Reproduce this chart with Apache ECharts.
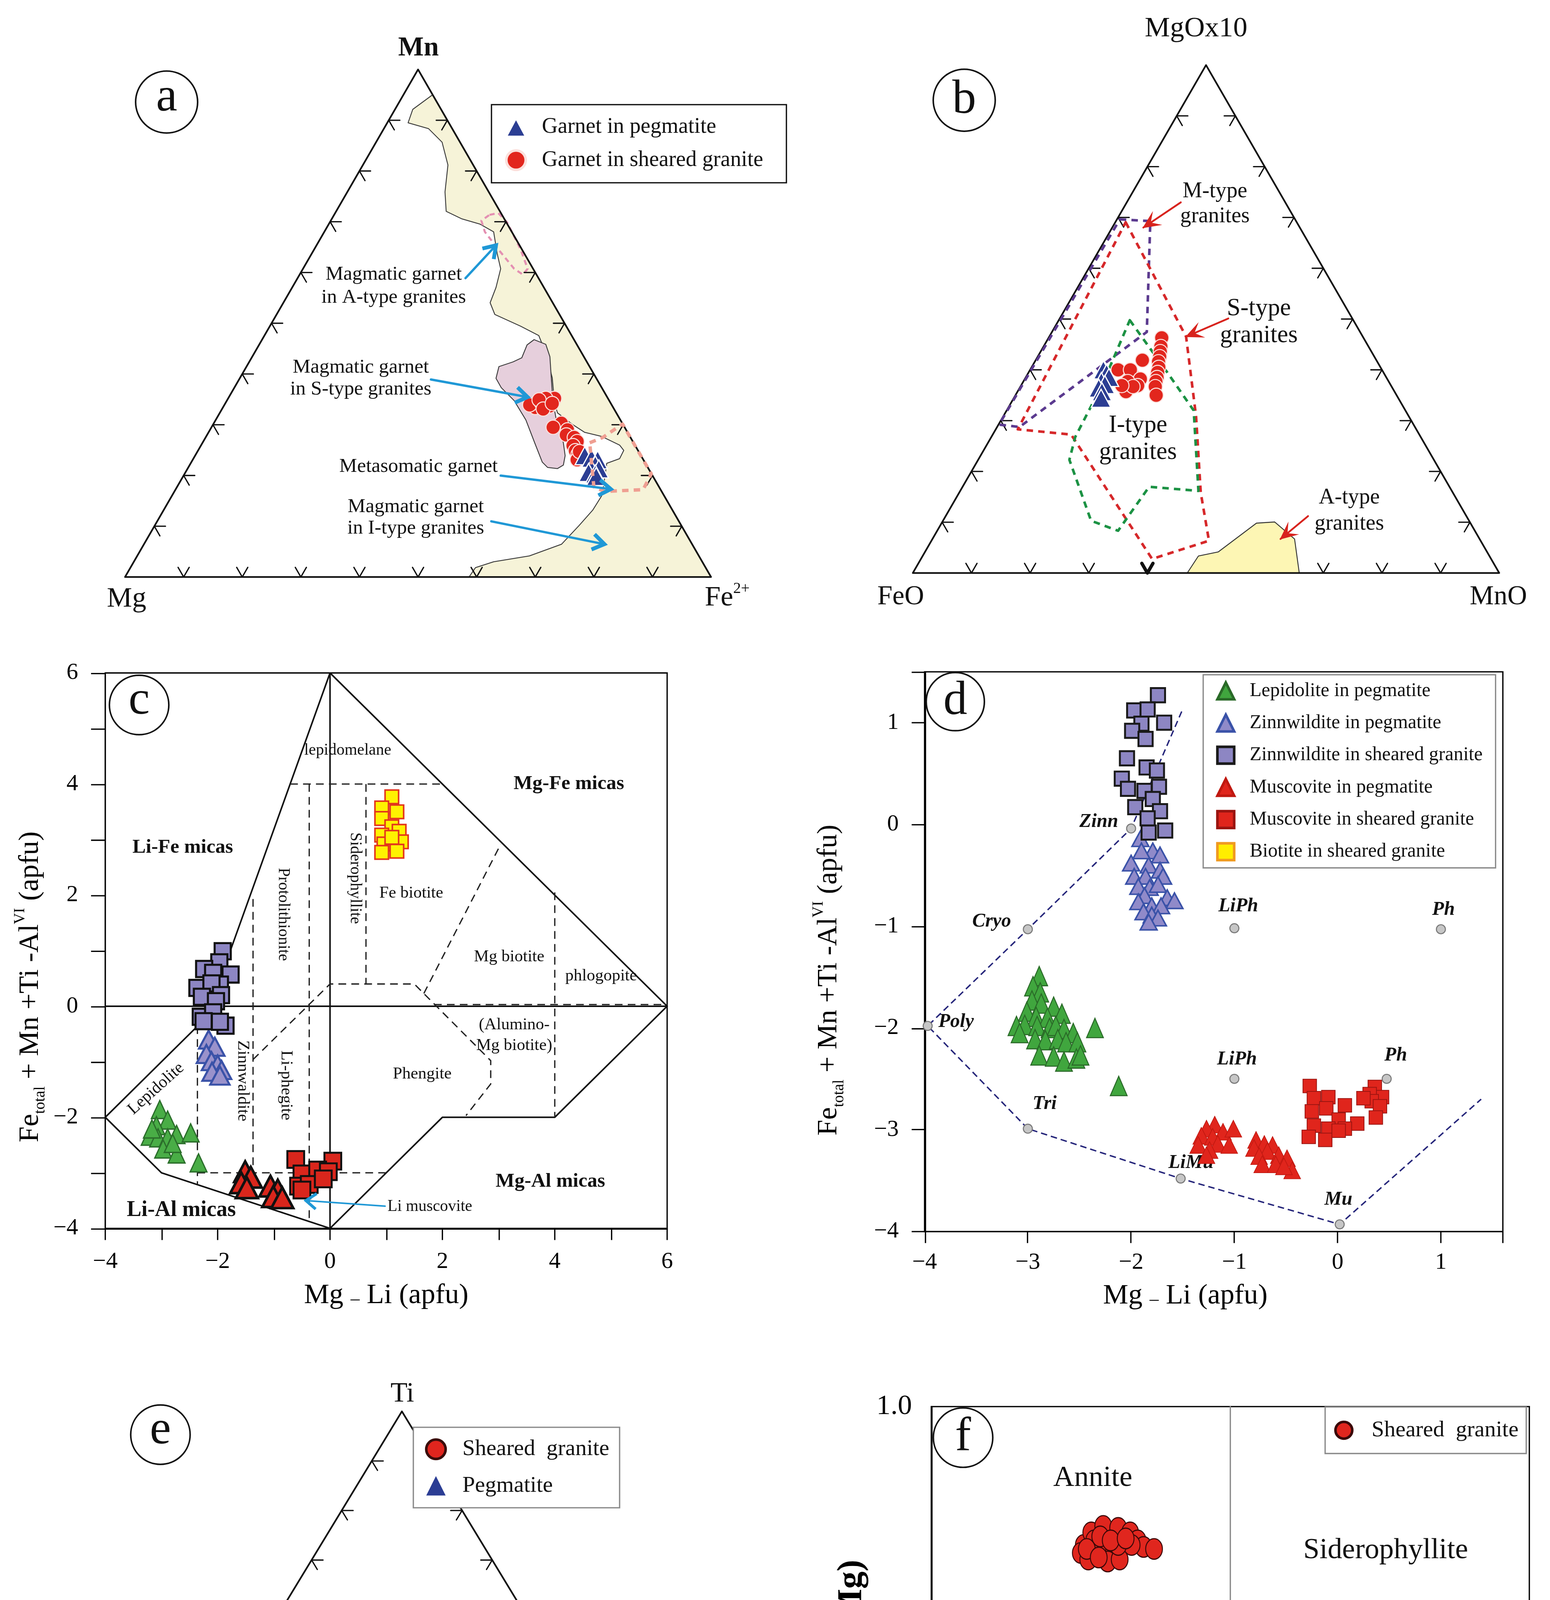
<!DOCTYPE html>
<html>
<head>
<meta charset="utf-8">
<title>Mineral chemistry classification diagrams</title>
<script src="https://cdn.jsdelivr.net/npm/echarts@6.0.0/dist/echarts.min.js"></script>
<style>
  html, body { margin:0; padding:0; background:#fff; width:3968px; height:5177px; overflow:hidden; }
  #chart { width:1200px; height:1566px; transform:scale(3.3066667); transform-origin:0 0; }
</style>
</head>
<body>
<div id="chart"></div>
<script>
const SERIF = '"Liberation Serif","Times New Roman",serif';
const R3 = Math.sqrt(3) / 2;

// ================= DATA =================
const ternTicks = [10, 20, 30, 40, 50, 60, 70, 80, 90];

// (a) Garnet, ternary Mn – Mg – Fe2+ : [Mn %, Fe2+ %]
const aGarnetGranite = [[35.2,55.7],[33.4,53.3],[33.9,52.1],[34.2,54.0],[35.2,54.2],[33.7,55.6],[34.9,53.2],[33.1,54.8],[34.2,55.8],[30.3,59.3],[29.5,58.3],[29.0,61.0],[28.0,61.3],[27.5,62.9],[26.7,63.8],[25.9,63.5],[24.9,64.4],[24.2,65.2],[23.1,65.6],[24.7,65.2]];
const aGarnetPegmatite = [[23.9,66.5],[23.4,67.9],[23.1,69.1],[22.1,69.2],[21.3,68.9],[21.3,70.2],[20.6,68.8],[20.3,70.1],[19.8,70.5]];
// (a) field outlines, in triangle plane units (side = 100)
const aFieldMagmatic = [[52.5,82.3],[49.1,79.8],[48.3,77.5],[51.8,76.5],[54.1,74.2],[55.1,70.3],[54.6,65.7],[54.8,62.4],[57.5,61.1],[60.6,60.2],[62.9,58.9],[63.5,55.2],[64.1,52.6],[63.3,49.4],[62.3,46.8],[63.1,44.8],[67.5,42.8],[70.6,41.2],[71.8,38.2],[72.9,34.0],[73.3,29.6],[73.8,28.0],[76.4,26.0],[78.4,24.7],[81.3,24.0],[84.4,22.5],[85.1,21.6],[84.4,20.2],[82.2,19.4],[81.5,14.5],[81.3,13.8],[79.8,11.4],[77.5,8.8],[74.5,5.6],[69.0,3.6],[62.9,2.6],[59.8,1.6],[58.7,0],[100,0]];
const aFieldSType = [[69.8,40.5],[71.8,39.7],[72.5,37.6],[72.7,34.5],[73.0,30.1],[73.7,26.2],[74.8,22.9],[75.1,20.7],[74.8,19.1],[73.8,18.5],[72.1,18.7],[71.2,19.6],[69.9,22.9],[68.4,26.8],[66.4,30.1],[64.2,32.3],[63.3,33.9],[63.8,35.9],[66.2,36.7],[67.7,37.4],[68.6,39.6]];
const aFieldAType = [[62.2,61.8],[63.7,62.1],[65.2,60.5],[67.5,55.9],[68.7,52.6],[67.9,51.6],[66.4,52.6],[63.7,55.9],[61.4,58.9],[60.8,60.8]];
const aFieldMetasomatic = [[79.3,22.9],[81.5,23.8],[84.9,26.1],[89.8,17.6],[88.4,14.9],[81.8,14.6],[80.0,15.4],[79.6,19.6]];
const aArrows = [[[58.1,51.0],[63.3,56.6]],[[52.2,33.7],[68.7,30.7]],[[64.1,17.3],[82.9,15.0]],[[62.5,9.5],[81.8,5.6]]];

// (b) Garnet, ternary MgOx10 – FeO – MnO : [MgOx10 %, MnO %]
const bGarnetGranite = [[46.3,19.3],[44.6,20.0],[43.6,20.4],[42.6,20.8],[41.6,21.1],[40.5,21.7],[39.5,22.0],[38.5,22.4],[37.7,22.6],[36.7,23.0],[35.0,24.0],[41.9,18.2],[40.0,15.0],[38.7,18.3],[40.0,17.1],[38.2,19.7],[36.9,19.9],[37.7,17.8],[35.7,18.5],[36.7,19.2],[36.9,17.2]];
const bGarnetPegmatite = [[40.0,12.5],[39.3,13.4],[38.5,14.2],[37.7,13.3],[37.1,14.2],[36.4,13.5],[35.7,14.4],[34.4,14.9]];
const bFieldM = [[35.3,60.3],[40.5,60.0],[39.9,41.1],[18.2,24.9],[14.7,25.3]];
const bFieldS = [[36.3,59.8],[46.6,40.3],[48.3,26.7],[49.1,13.7],[50.5,5.5],[40.8,2.4],[27.0,23.6],[17.9,24.5]];
const bFieldI = [[37.0,43.1],[43.4,34.2],[47.9,27.7],[48.7,14.0],[40.3,14.7],[35.0,7.2],[30.4,8.9],[26.7,19.3],[27.7,23.2],[32.3,32.1]];
const bFieldA = [[46.8,0],[48.7,2.9],[52.1,3.6],[58.6,8.5],[61.7,8.7],[65.1,5.8],[65.9,0]];
const bArrows = [[[45.7,63.2],[39.3,58.9]],[[53.8,43.4],[46.6,40.3]],[[67.4,9.7],[62.7,5.8]]];

// (c) Mg–Li vs Fe+Mn+Ti–AlVI (apfu)
const cZinnGranite = [[-1.91,0.99],[-1.97,0.79],[-2.24,0.67],[-2.08,0.60],[-1.77,0.57],[-2.36,0.33],[-1.96,0.39],[-2.11,0.41],[-2.28,0.17],[-1.94,0.20],[-2.03,0.09],[-2.30,-0.19],[-2.08,-0.11],[-1.86,-0.35],[-1.96,-0.28],[-2.25,-0.27]];
const cZinnPeg = [[-2.16,-0.60],[-2.05,-0.73],[-2.20,-0.86],[-2.11,-0.99],[-2.00,-1.05],[-1.93,-1.15],[-2.10,-1.18],[-1.96,-1.25]];
const cLepPeg = [[-3.03,-1.86],[-2.89,-2.05],[-3.09,-2.15],[-3.21,-2.34],[-3.06,-2.37],[-2.89,-2.37],[-2.73,-2.31],[-2.48,-2.28],[-2.97,-2.57],[-2.73,-2.66],[-2.80,-2.47],[-2.34,-2.82],[-3.17,-2.21]];
const cMusPeg = [[-1.51,-2.98],[-1.41,-3.08],[-1.58,-3.18],[-1.48,-3.27],[-1.06,-3.24],[-0.93,-3.31],[-1.01,-3.43],[-0.85,-3.45]];
const cMusGranite = [[-0.61,-2.76],[0.05,-2.79],[-0.50,-3.02],[-0.22,-2.95],[-0.03,-2.98],[-0.56,-3.24],[-0.37,-3.21],[-0.12,-3.11],[-0.50,-3.31]];
const cBiotite = [[1.10,3.77],[0.92,3.57],[1.19,3.50],[0.92,3.38],[1.10,3.23],[1.23,3.15],[0.92,3.08],[1.27,2.96],[0.96,2.92],[1.19,2.79],[0.92,2.77],[1.10,3.04]];
const cSolidLines = [
  [[-4,-2],[-3,-3],[0,-4],[2,-2],[4,-2],[6,0],[0,6],[-2.2,-0.2],[-4,-2]],
  [[0,-4],[0,6]],
  [[-4,0],[6,0]]
];
const cDashedLines = [
  [[-0.71,4],[2,4]],
  [[-0.37,4],[-0.37,-3.88]],
  [[-1.37,1.93],[-1.37,-3]],
  [[-2.36,-0.36],[-2.36,-3.21]],
  [[-2.36,-3],[1,-3]],
  [[-1.37,-0.96],[0,0.4],[1.5,0.4],[2.86,-0.98],[2.86,-1.4],[2.42,-1.97]],
  [[0.64,4],[0.64,0.4]],
  [[1.67,0.23],[3.04,2.92]],
  [[1.85,0.03],[6,0.03]],
  [[4,2.05],[4,-2]]
];
const cArrow = [[0.98,-3.60],[-0.43,-3.50]];

// (d) Mg–Li vs Fe+Mn+Ti–AlVI (apfu)
const dZinnGranite = [[-1.74,1.27],[-1.97,1.12],[-1.84,1.13],[-1.68,1.00],[-1.90,0.99],[-1.99,0.92],[-1.86,0.84],[-2.04,0.65],[-1.85,0.56],[-1.75,0.53],[-2.09,0.45],[-1.73,0.37],[-2.03,0.35],[-1.87,0.33],[-1.79,0.25],[-1.96,0.17],[-1.72,0.13],[-1.84,0.06],[-1.67,-0.06],[-1.83,-0.08]];
const dZinnPeg = [[-1.91,-0.14],[-1.79,-0.26],[-1.72,-0.30],[-2.00,-0.38],[-1.83,-0.40],[-1.72,-0.45],[-1.97,-0.51],[-1.86,-0.51],[-1.69,-0.51],[-1.93,-0.61],[-1.82,-0.62],[-1.74,-0.59],[-1.87,-0.70],[-1.65,-0.72],[-1.58,-0.75],[-1.93,-0.76],[-1.80,-0.80],[-1.71,-0.80],[-1.88,-0.86],[-1.80,-0.89],[-1.74,-0.92],[-1.83,-0.96],[-1.90,-0.26]];
const dLepPeg = [[-2.89,-1.49],[-2.95,-1.59],[-2.88,-1.65],[-2.96,-1.73],[-2.87,-1.76],[-2.75,-1.79],[-2.67,-1.86],[-3.01,-1.84],[-2.92,-1.89],[-2.81,-1.90],[-3.11,-1.98],[-3.03,-1.97],[-2.91,-1.98],[-2.79,-2.00],[-2.73,-1.98],[-2.65,-2.01],[-2.56,-2.05],[-2.35,-2.00],[-2.93,-2.11],[-2.83,-2.12],[-2.71,-2.11],[-2.63,-2.14],[-2.52,-2.14],[-2.89,-2.27],[-2.75,-2.28],[-2.65,-2.33],[-2.53,-2.30],[-2.49,-2.27],[-2.12,-2.57],[-3.08,-2.05]];
const dMusPeg = [[-1.19,-2.95],[-1.27,-2.99],[-1.11,-3.02],[-1.32,-3.06],[-1.21,-3.07],[-1.01,-2.99],[-1.16,-3.14],[-1.35,-3.15],[-1.24,-3.20],[-1.05,-3.15],[-1.27,-3.25],[-0.79,-3.10],[-0.71,-3.14],[-0.63,-3.15],[-0.81,-3.18],[-0.68,-3.21],[-0.76,-3.26],[-0.57,-3.25],[-0.49,-3.28],[-0.73,-3.34],[-0.60,-3.34],[-0.44,-3.40],[-0.52,-3.36]];
const dMusGranite = [[-0.27,-2.57],[-0.23,-2.69],[-0.09,-2.68],[-0.25,-2.82],[-0.11,-2.79],[0.07,-2.76],[0.01,-2.90],[0.19,-2.94],[-0.23,-2.96],[-0.09,-2.99],[0.07,-2.99],[-0.28,-3.07],[-0.12,-3.10],[0.01,-3.01],[0.36,-2.58],[0.43,-2.68],[0.31,-2.65],[0.33,-2.72],[0.41,-2.77],[0.37,-2.88],[0.25,-2.69]];
const dEndMemberNames = ['Zinn','Cryo','Poly','LiPh','Ph','LiPh','Ph','Tri','LiMu','Mu'];
const dEndMembers = [[-2,-0.04],[-3,-1.03],[-3.97,-1.98],[-1,-1.02],[1,-1.03],[-1,-2.5],[0.475,-2.5],[-3,-2.99],[-1.52,-3.48],[0.02,-3.93]];
const dTrendLine = [[-1.51,1.11],[-2,-0.04],[-3,-1.03],[-3.97,-1.98],[-3,-2.99],[-1.52,-3.48],[0.02,-3.93],[1.39,-2.70]];

// (e) Muscovite, ternary Ti – Mg – Na : [Ti %, Na %]
const eGranite = [[3.2,1.2],[3.2,2.0],[7.2,2.6],[3.6,7.8],[3.2,8.6],[4.7,9.6],[4.0,10.7],[2.7,11.7],[4.3,10.3],[12.8,14.8],[13.9,20.8],[13.2,25.9],[12.7,27.7],[11.0,29.0],[10.3,19.8],[9.9,23.4],[10.2,25.5],[9.0,18.0],[7.1,19.3],[6.6,20.1],[6.6,22.9],[7.2,27.9]];
const ePegmatite = [[13.8,30.3],[15.9,36.3],[13.5,44.8],[13.0,35.5],[11.9,37.0],[10.8,34.6],[11.1,41.1],[9.8,36.3],[8.7,34.8],[8.2,40.8],[8.2,43.8],[7.1,46.7],[7.4,48.1],[7.9,48.6],[6.8,51.7],[6.0,54.9],[6.6,36.3],[6.3,38.6],[6.0,42.1],[6.8,43.3],[5.9,46.9],[5.7,48.9],[4.7,52.0],[5.2,46.0],[5.0,43.0],[12.7,31.7],[9.8,38.3],[9.2,41.3]];
const eRightTicks = [10, 40, 50, 60, 70, 80, 90];
const eDivider = [[11.3,19.8],[49.7,0]];
const eArrow = [[3.1,15.9],[15.8,7.8]];

// (f) Al total vs Fe/(Fe+Mg)
const fGranite = [[3.02,0.724],[3.07,0.749],[3.15,0.762],[3.25,0.758],[3.33,0.749],[3.38,0.733],[3.42,0.720],[3.49,0.716],[3.12,0.716],[3.22,0.708],[3.00,0.708],[3.05,0.695],[3.18,0.691],[3.26,0.695],[3.34,0.724],[3.09,0.733],[3.25,0.724],[3.13,0.741],[3.04,0.716],[3.20,0.733],[3.30,0.737],[3.12,0.699]];
const fDividers = [[[4,0],[4,1]],[[2,0.5],[6,0.5]]];

// ================= HELPERS =================
const tern = p => [p[1] + p[0] / 2, p[0] * R3];
const fmtMinus = v => (v < 0 ? '\u2212' + Math.abs(v) : String(v));
const TRI = [[0,0],[100,0],[50,100 * R3]];

function tickShapes(edges, len, lw, bold) {
  const out = [];
  Object.keys(edges).forEach(edge => {
    edges[edge].forEach(f => {
      let P, d1, d2;
      if (edge === 'left') { P = [f / 2, f * R3]; d1 = [1, 0]; d2 = [0.5, -R3]; }
      else if (edge === 'base') { P = [f, 0]; d1 = [-0.5, R3]; d2 = [0.5, R3]; }
      else { P = [100 - f / 2, f * R3]; d1 = [-1, 0]; d2 = [-0.5, -R3]; }
      const isBold = bold && bold.edge === edge && bold.at === f;
      out.push({ pts: [[P[0] + d1[0] * len, P[1] + d1[1] * len], P, [P[0] + d2[0] * len, P[1] + d2[1] * len]],
                 stroke: '#111', lw: isBold ? 2.6 : lw });
    });
  });
  return out;
}

function shapeSeries(gi, shapes, z) {
  return {
    type: 'custom', xAxisIndex: gi, yAxisIndex: gi, z: z, silent: true, clip: false,
    data: shapes.map(s => [s.pts[0][0], s.pts[0][1]]),
    renderItem: function (params, api) {
      const s = shapes[params.dataIndex];
      const pts = s.pts.map(p => api.coord(p));
      const kids = [{
        type: s.closed ? 'polygon' : 'polyline',
        shape: { points: pts },
        style: { fill: s.fill || 'none', stroke: s.stroke || 'none', lineWidth: s.lw || 1,
                 lineDash: s.dash || null, lineJoin: 'round', lineCap: s.dash ? 'butt' : 'round' }
      }];
      if (s.head) {
        const n = pts.length, E = pts[n - 1], P0 = pts[n - 2];
        let ux = E[0] - P0[0], uy = E[1] - P0[1];
        const L = Math.hypot(ux, uy); ux /= L; uy /= L;
        const hl = s.head.len, hw = s.head.wid;
        const A = [E[0] - ux * hl - uy * hw, E[1] - uy * hl + ux * hw];
        const B = [E[0] - ux * hl + uy * hw, E[1] - uy * hl - ux * hw];
        if (s.head.fill) {
          const M = [E[0] - ux * hl * 0.55, E[1] - uy * hl * 0.55];
          kids.push({ type: 'polygon', shape: { points: [A, E, B, M] }, style: { fill: s.stroke, stroke: s.stroke, lineWidth: 0.6 } });
        } else {
          kids.push({ type: 'polyline', shape: { points: [A, E, B] }, style: { fill: 'none', stroke: s.stroke, lineWidth: s.head.lw || s.lw, lineCap: 'butt', lineJoin: 'miter' } });
        }
      }
      return { type: 'group', children: kids };
    }
  };
}

function sc(gi, name, data, symbol, size, itemStyle, z, extra) {
  return Object.assign({ type: 'scatter', name: name, xAxisIndex: gi, yAxisIndex: gi, data: data,
    symbol: symbol, symbolSize: size, itemStyle: Object.assign({ opacity: 1 }, itemStyle), z: z || 3, silent: true,
    emphasis: { disabled: true } }, extra || {});
}

function txt(x, y, text, o) {
  o = o || {};
  return { type: 'text', x: x, y: y, z: 60, rotation: o.rot || 0, silent: true,
    style: { text: text, fill: o.color || '#111', fontFamily: SERIF, fontSize: o.size || 15,
             fontWeight: o.weight || 'normal', fontStyle: o.italic ? 'italic' : 'normal',
             align: o.align || 'center', verticalAlign: 'middle', lineHeight: o.lh, rich: o.rich } };
}
function tag(cx, cy, r, letter, dy) {
  return [
    { type: 'circle', z: 58, silent: true, shape: { cx: cx, cy: cy, r: r }, style: { fill: '#fff', stroke: '#111', lineWidth: 1.2 } },
    txt(cx, cy + (dy || 0), letter, { size: 37 })
  ];
}

// ================= SHAPES =================
const BLUE = '#1f98d6';
const aBack = [
  { pts: aFieldMagmatic, closed: true, fill: '#f6f3d8', stroke: '#3a3a3a', lw: 0.7 },
  { pts: aFieldSType, closed: true, fill: '#e6cfdc', stroke: '#3a3a3a', lw: 0.7 },
  { pts: aFieldAType, closed: true, stroke: '#e490b2', lw: 1.6, dash: [4, 3] },
  { pts: TRI, closed: true, stroke: '#111', lw: 1.3 }
].concat(tickShapes({ left: ternTicks, base: ternTicks, right: ternTicks }, 1.9, 1));
const aFront = [
  { pts: aFieldMetasomatic, closed: true, stroke: '#ef9f92', lw: 2.6, dash: [5, 4] }
].concat(aArrows.map(a => ({ pts: a, stroke: BLUE, lw: 1.8, head: { len: 9, wid: 6, lw: 3 } })));

const bBack = tickShapes({ left: ternTicks, base: ternTicks, right: ternTicks }, 1.9, 1, { edge: 'base', at: 40 }).concat([
  { pts: bFieldA, closed: false, fill: '#fdf6b4', stroke: '#333', lw: 0.7 },
  { pts: TRI, closed: true, stroke: '#111', lw: 1.3 },
  { pts: bFieldM, closed: true, stroke: '#5b3a8f', lw: 2, dash: [5, 4] },
  { pts: bFieldS, closed: true, stroke: '#d6282a', lw: 2, dash: [5, 4] },
  { pts: bFieldI, closed: true, stroke: '#1c9244', lw: 2, dash: [5, 4] }
]);
const bFront = bArrows.map(a => ({ pts: a, stroke: '#d8231d', lw: 1.4, head: { len: 12, wid: 5.5, fill: true } }));

const cBack = cSolidLines.map(l => ({ pts: l, stroke: '#111', lw: 1.2 }))
  .concat(cDashedLines.map(l => ({ pts: l, stroke: '#222', lw: 1, dash: [6, 4] })));
const cFront = [{ pts: cArrow, stroke: BLUE, lw: 1.2, head: { len: 8, wid: 6, lw: 2.2 } }];

const dBack = [{ pts: dTrendLine, stroke: '#25257a', lw: 1.1, dash: [5, 3] }];

const eBack = [
  { pts: TRI, closed: true, stroke: '#111', lw: 1.3 },
  { pts: eDivider, stroke: '#222', lw: 1.2, dash: [5, 3] },
  { pts: eArrow, stroke: BLUE, lw: 1.4, head: { len: 8, wid: 6, lw: 2.6 } }
].concat(tickShapes({ left: ternTicks, base: ternTicks, right: eRightTicks }, 1.9, 1));

const fBack = [
  { pts: fDividers[0], stroke: '#8a8a8a', lw: 1 },
  { pts: fDividers[1], stroke: '#333', lw: 1.4 }
];

// ================= STYLES =================
const ELLIPSE = 'path://M50,0A50,50,0,1,1,50,100A50,50,0,1,1,50,0Z';
const stGarnetRed = { color: '#e2261d', borderColor: '#fbe0dc', borderWidth: 0.8 };
const stGarnetBlue = { color: '#2c3e93', borderColor: '#ffffff', borderWidth: 0.9 };

// ================= AXES =================
const hid = (gi, max) => ({ type: 'value', gridIndex: gi, min: 0, max: max, show: false });
const axBase = {
  axisLine: { onZero: false, lineStyle: { color: '#000', width: 1 } },
  axisTick: { lineStyle: { color: '#000', width: 1 } },
  splitLine: { show: false }
};
const nameRichY = {
  b: { fontFamily: SERIF, fontSize: 22, color: '#000', lineHeight: 28 },
  s: { fontFamily: SERIF, fontSize: 12, color: '#000', lineHeight: 28, verticalAlign: 'bottom' },
  p: { fontFamily: SERIF, fontSize: 12, color: '#000', lineHeight: 28, verticalAlign: 'top' }
};
const nameRichX = {
  b: { fontFamily: SERIF, fontSize: 22, color: '#000', lineHeight: 28 },
  m: { fontFamily: SERIF, fontSize: 14, color: '#000', lineHeight: 28, verticalAlign: 'bottom', padding: [0, 0, 4, 0] }
};
const yName = '{b|Fe}{s|total}{b| + Mn +Ti -Al}{p|VI}{b| (apfu)}';
const xName = '{b|Mg }{m|\u2013}{b| Li (apfu)}';

const option = {
  animation: false,
  backgroundColor: '#fff',
  textStyle: { fontFamily: SERIF },
  grid: [
    { left: 96.8, top: 53.8, width: 453.7, height: 392.9, outerBoundsMode: 'none' },
    { left: 706.7, top: 50.4, width: 454, height: 393.2, outerBoundsMode: 'none' },
    { left: 81.5, top: 521, width: 435, height: 430, show: true, borderColor: '#000', borderWidth: 1, outerBoundsMode: 'none' },
    { left: 715.8, top: 520.1, width: 447.7, height: 433.3, show: true, borderColor: '#000', borderWidth: 1, outerBoundsMode: 'none' },
    { left: 78.1, top: 1092.7, width: 466.1, height: 383.6, outerBoundsMode: 'none' },
    { left: 721, top: 1089, width: 463, height: 388, show: true, borderColor: '#000', borderWidth: 1, outerBoundsMode: 'none' }
  ],
  xAxis: [
    hid(0, 100), hid(1, 100),
    Object.assign({}, axBase, { type: 'value', gridIndex: 2, min: -4, max: 6, interval: 1,
      axisTick: { length: 9, lineStyle: { color: '#000' } },
      axisLabel: { fontFamily: SERIF, fontSize: 18, color: '#000', margin: 17, formatter: v => (v % 2 === 0 ? fmtMinus(v) : '') },
      name: xName, nameLocation: 'middle', nameGap: 38, nameTextStyle: { rich: nameRichX } }),
    Object.assign({}, axBase, { type: 'value', gridIndex: 3, min: -4, max: 1.6, interval: 1,
      axisTick: { length: 9, lineStyle: { color: '#000' } },
      axisLabel: { fontFamily: SERIF, fontSize: 18, color: '#000', margin: 15, formatter: v => (Number.isInteger(v) ? fmtMinus(v) : '') },
      name: xName, nameLocation: 'middle', nameGap: 36, nameTextStyle: { rich: nameRichX, padding: [0, 44, 0, 0] } }),
    hid(4, 100),
    Object.assign({}, axBase, { type: 'value', gridIndex: 5, min: 2, max: 6, interval: 2,
      axisTick: { show: false },
      axisLabel: { fontFamily: SERIF, fontSize: 22, color: '#000', margin: 18, formatter: v => v.toFixed(1) },
      name: '{b|Al}{s|Total}', nameLocation: 'middle', nameGap: 46,
      nameTextStyle: { rich: {
        b: { fontFamily: SERIF, fontSize: 27, color: '#000', lineHeight: 32 },
        s: { fontFamily: SERIF, fontSize: 15, color: '#000', lineHeight: 32, verticalAlign: 'bottom' } } } })
  ],
  yAxis: [
    hid(0, 100 * R3), hid(1, 100 * R3),
    Object.assign({}, axBase, { type: 'value', gridIndex: 2, min: -4, max: 6, interval: 1,
      axisTick: { length: 11, lineStyle: { color: '#000' } },
      axisLabel: { fontFamily: SERIF, fontSize: 18, color: '#000', margin: 21, formatter: v => (v % 2 === 0 ? fmtMinus(v) : '') },
      name: yName, nameLocation: 'middle', nameRotate: 90, nameGap: 44, nameTextStyle: { rich: nameRichY, padding: [0, 56, 0, 0] } }),
    Object.assign({}, axBase, { type: 'value', gridIndex: 3, min: -4, max: 1.5, interval: 1,
      axisTick: { length: 10, lineStyle: { color: '#000' } },
      axisLabel: { fontFamily: SERIF, fontSize: 18, color: '#000', margin: 20, formatter: v => (Number.isInteger(v) ? fmtMinus(v) : '') },
      name: yName, nameLocation: 'middle', nameRotate: 90, nameGap: 60, nameTextStyle: { rich: nameRichY, padding: [0, 44, 0, 0] } }),
    hid(4, 100 * R3),
    Object.assign({}, axBase, { type: 'value', gridIndex: 5, min: 0, max: 1, interval: 0.5,
      axisTick: { show: false },
      axisLabel: { fontFamily: SERIF, fontSize: 22, color: '#000', margin: 15, formatter: v => v.toFixed(1) },
      name: 'Fe/(Fe+Mg)', nameLocation: 'middle', nameRotate: 90, nameGap: 48,
      nameTextStyle: { fontFamily: SERIF, fontSize: 27, fontWeight: 'bold', color: '#000', padding: [0, 0, 0, 14] } })
  ],
  legend: [
    { left: 380.5, top: 81, orient: 'vertical', selectedMode: false, z: 20,
      data: ['Garnet in pegmatite', 'Garnet in sheared granite'],
      backgroundColor: '#fff', borderColor: '#111', borderWidth: 1, padding: [9, 18, 9, 10],
      itemWidth: 16, itemHeight: 15, itemGap: 8.5,
      textStyle: { fontFamily: SERIF, fontSize: 17, color: '#111', padding: [0, 0, 0, 7] } },
    { left: 931.5, top: 522.4, orient: 'vertical', selectedMode: false, z: 20,
      data: ['Lepidolite in pegmatite', 'Zinnwildite in pegmatite', 'Zinnwildite in sheared granite', 'Muscovite in pegmatite', 'Muscovite in sheared granite', 'Biotite in sheared granite'],
      backgroundColor: '#fff', borderColor: '#8a8a8a', borderWidth: 1, padding: [5, 10, 5, 10],
      itemWidth: 13, itemHeight: 13, itemGap: 9.9,
      textStyle: { fontFamily: SERIF, fontSize: 15, color: '#111', padding: [0, 0, 0, 7] } },
    { left: 320, top: 1105, orient: 'vertical', selectedMode: false, z: 20,
      data: ['Sheared  granite (e)', 'Pegmatite (e)'], formatter: n => n.replace(/ \([ef]\)$/, ''),
      backgroundColor: '#fff', borderColor: '#8a8a8a', borderWidth: 1, padding: [8, 8, 8, 9],
      itemWidth: 15, itemHeight: 15, itemGap: 10.3,
      textStyle: { fontFamily: SERIF, fontSize: 17.5, color: '#111', padding: [0, 0, 0, 8] } },
    { left: 1025.9, top: 1089.3, orient: 'vertical', selectedMode: false, z: 20,
      data: ['Sheared  granite (f)'], formatter: n => n.replace(/ \([ef]\)$/, ''),
      backgroundColor: '#fff', borderColor: '#8a8a8a', borderWidth: 1, padding: [9, 6, 9, 7],
      itemWidth: 13, itemHeight: 17,
      textStyle: { fontFamily: SERIF, fontSize: 17.5, color: '#111', padding: [0, 0, 0, 10] } }
  ],
  series: [
    // (a)
    shapeSeries(0, aBack, 1),
    sc(0, 'Garnet in sheared granite', aGarnetGranite.map(tern), 'circle', 11, stGarnetRed, 3),
    sc(0, 'Garnet in pegmatite', aGarnetPegmatite.map(tern), 'triangle', [15, 14], stGarnetBlue, 3),
    shapeSeries(0, aFront, 4),
    // (b)
    shapeSeries(1, bBack, 1),
    sc(1, 'b garnet granite', bGarnetGranite.map(tern), 'circle', 11, stGarnetRed, 3),
    sc(1, 'b garnet pegmatite', bGarnetPegmatite.map(tern), 'triangle', [15, 14], stGarnetBlue, 3),
    shapeSeries(1, bFront, 4),
    // (c)
    shapeSeries(2, cBack, 1),
    sc(2, 'Zinnwildite in pegmatite (c)', cZinnPeg, 'triangle', [15, 14], { color: '#9a92cb', borderColor: '#3a52a8', borderWidth: 1.6 }, 3),
    sc(2, 'Zinnwildite in sheared granite (c)', cZinnGranite, 'rect', 12.5, { color: '#8d86c3', borderColor: '#111', borderWidth: 1.6 }, 3),
    sc(2, 'Lepidolite in pegmatite (c)', cLepPeg, 'triangle', [13, 14], { color: '#49ad46', borderColor: '#2b6e2b', borderWidth: 1 }, 3),
    sc(2, 'Muscovite in sheared granite (c)', cMusGranite, 'rect', 13, { color: '#d9261c', borderColor: '#111', borderWidth: 1.5 }, 3),
    sc(2, 'Muscovite in pegmatite (c)', cMusPeg, 'triangle', [17, 16], { color: '#d9261c', borderColor: '#111', borderWidth: 2 }, 3),
    sc(2, 'Biotite in sheared granite (c)', cBiotite, 'rect', 10.5, { color: '#fff200', borderColor: '#e3361c', borderWidth: 1.2 }, 3),
    shapeSeries(2, cFront, 4),
    // (d)
    shapeSeries(3, dBack, 1),
    sc(3, 'Lepidolite in pegmatite', dLepPeg, 'triangle', [13, 15], { color: '#40a63e', borderColor: '#2a6a28', borderWidth: 0.8 }, 3),
    sc(3, 'Zinnwildite in pegmatite', dZinnPeg, 'triangle', [13, 12], { color: '#908ac9', borderColor: '#3a52a8', borderWidth: 1.2 }, 3),
    sc(3, 'Zinnwildite in sheared granite', dZinnGranite, 'rect', 11, { color: '#8d86c3', borderColor: '#1a1a1a', borderWidth: 1.5 }, 3),
    sc(3, 'Muscovite in pegmatite', dMusPeg, 'triangle', [13, 13], { color: '#e0251c', borderColor: '#c01810', borderWidth: 0.5 }, 3),
    sc(3, 'Muscovite in sheared granite', dMusGranite, 'rect', 10.5, { color: '#e0251c', borderColor: '#9a1410', borderWidth: 0.6 }, 3),
    sc(3, 'Biotite in sheared granite', [], 'rect', 10, { color: '#ffee00', borderColor: '#f09a20', borderWidth: 1 }, 3),
    sc(3, 'End members', dEndMembers.map((p, i) => ({ value: p, name: dEndMemberNames[i] })), 'circle', 7,
       { color: '#c6c6c6', borderColor: '#7a7a7a', borderWidth: 0.8 }, 2,
       { label: { show: true, formatter: '{b}', fontFamily: SERIF, fontSize: 15, fontWeight: 'bold', fontStyle: 'italic', color: '#111' },
         labelLayout: function (p) {
           const offs = { 0: [-25, -5], 1: [-28, -6], 2: [22, -3], 3: [3, -17], 4: [2, -15], 5: [2, -15], 6: [7, -18], 7: [13, -19], 8: [8, -12], 9: [-1, -19] };
           const o = offs[p.dataIndex];
           return { x: p.rect.x + p.rect.width / 2 + o[0], y: p.rect.y + p.rect.height / 2 + o[1], align: 'center', verticalAlign: 'middle' };
         } }),
    // (e)
    shapeSeries(4, eBack, 1),
    sc(4, 'Sheared  granite (e)', eGranite.map(tern), 'circle', 11, { color: '#e0251e', borderColor: '#3a0c0a', borderWidth: 0.8 }, 3),
    sc(4, 'Pegmatite (e)', ePegmatite.map(tern), 'triangle', [14, 14], { color: '#2b3d94' }, 3),
    // (f)
    shapeSeries(5, fBack, 1),
    sc(5, 'Sheared  granite (f)', fGranite, ELLIPSE, [13, 16], { color: '#e0261e', borderColor: '#3a0808', borderWidth: 0.8 }, 3)
  ],
  graphic: [].concat(
    tag(129, 79, 24, 'a', -3), tag(746.5, 77.6, 24, 'b', 0), tag(107.7, 545.8, 23, 'c', -3),
    tag(739.6, 543.2, 22.5, 'd', 0), tag(124.2, 1110.7, 23, 'e', -3), tag(745.6, 1113, 23, 'f', 0),
    [
      // (a)
      txt(324, 37.4, 'Mn', { size: 21, weight: 'bold' }),
      txt(98, 464, 'Mg', { size: 22 }),
      txt(563, 463, '{b|Fe}{p|2+}', { rich: { b: { fontFamily: SERIF, fontSize: 22, color: '#111', lineHeight: 26 }, p: { fontFamily: SERIF, fontSize: 12, color: '#111', lineHeight: 26, verticalAlign: 'top' } } }),
      txt(304.8, 221.3, 'Magmatic garnet\nin A-type granites', { size: 15.5, lh: 17.8 }),
      txt(279.3, 292.9, 'Magmatic garnet\nin S-type granites', { size: 15.5, lh: 17.2 }),
      txt(324, 361.3, 'Metasomatic garnet', { size: 15.5 }),
      txt(321.9, 400.7, 'Magmatic garnet\nin I-type granites', { size: 15.5, lh: 16.8 }),
      // (b)
      txt(926, 22.3, 'MgOx10', { size: 22 }),
      txt(697.3, 462.2, 'FeO', { size: 21 }),
      txt(1160, 462.2, 'MnO', { size: 21 }),
      txt(940.6, 158, 'M-type\ngranites', { size: 17, lh: 19.5 }),
      txt(974.6, 249.5, 'S-type\ngranites', { size: 19, lh: 21 }),
      txt(881, 340, 'I-type\ngranites', { size: 19, lh: 21 }),
      txt(1044.6, 395.5, 'A-type\ngranites', { size: 17, lh: 20 }),
      // (c)
      txt(269.2, 581.1, 'lepidomelane', { size: 12.5 }),
      txt(440.4, 606.8, 'Mg-Fe micas', { size: 15.5, weight: 'bold' }),
      txt(141.5, 656.2, 'Li-Fe micas', { size: 15.5, weight: 'bold' }),
      txt(219.2, 707.9, 'Protolithionite', { size: 12.5, rot: -Math.PI / 2 }),
      txt(275.0, 679.9, 'Siderophyllite', { size: 12.5, rot: -Math.PI / 2 }),
      txt(318.4, 691.5, 'Fe biotite', { size: 13 }),
      txt(394.2, 740.9, 'Mg biotite', { size: 13 }),
      txt(465.4, 755.7, 'phlogopite', { size: 13 }),
      txt(398.1, 801.5, '(Alumino-\nMg biotite)', { size: 13, lh: 15.8 }),
      txt(326.9, 831.5, 'Phengite', { size: 13 }),
      txt(187.9, 836.8, 'Zinnwaldite', { size: 13, rot: -Math.PI / 2 }),
      txt(221.6, 840.3, 'Li-phegite', { size: 13, rot: -Math.PI / 2 }),
      txt(120.8, 842.9, 'Lepidolite', { size: 13, rot: 0.73 }),
      txt(140.4, 936.9, 'Li-Al micas', { size: 17, weight: 'bold' }),
      txt(426.1, 914.9, 'Mg-Al micas', { size: 15.5, weight: 'bold' }),
      txt(300, 934.3, 'Li muscovite', { size: 12.5, align: 'left' }),
      // (e)
      txt(311.5, 1079.3, 'Ti', { size: 21.5 }),
      txt(78.8, 1499, 'Mg', { size: 23 }),
      txt(567.3, 1501, 'Na', { size: 23 }),
      txt(338.4, 1344.9, 'Primary muscovite', { size: 19 }),
      txt(73.1, 1385.5, 'Secondary\nmuscovite', { size: 16, lh: 17.5 }),
      // (f)
      txt(846, 1144.6, 'Annite', { size: 22.5 }),
      txt(1072.8, 1200.5, 'Siderophyllite', { size: 22.5 }),
      txt(841.5, 1365.6, 'Phlogopite', { size: 22.5 }),
      txt(1076.1, 1374.4, 'Eastonite', { size: 22.5 })
    ]
  )
};

const dom = document.getElementById('chart');
const chart = echarts.init(dom, null, { renderer: 'canvas', devicePixelRatio: 3.3066667 * (window.devicePixelRatio || 1), width: 1200, height: 1566 });
chart.setOption(option);
</script>
</body>
</html>
